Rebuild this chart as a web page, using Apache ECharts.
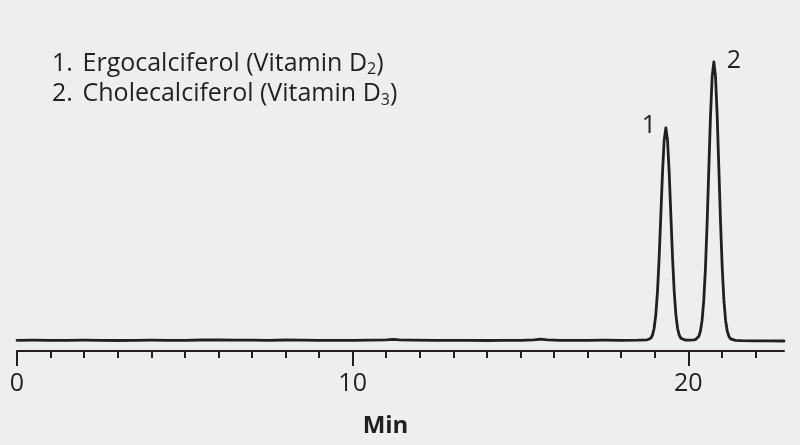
<!DOCTYPE html>
<html><head><meta charset="utf-8">
<script src="https://cdn.jsdelivr.net/npm/echarts@6/dist/echarts.min.js"></script>
<style>html,body{margin:0;padding:0;background:#eeeeee}#c{width:800px;height:445px}</style>
</head><body><div id="c"></div>
<script>
// Retention time (min)
const times = [
  0, 0.5, 1.0, 1.5, 2.0, 2.5, 3.0, 3.5, 4.0, 4.5, 5.0, 5.5, 6.0, 6.5, 7.0, 7.5, 8.0, 8.5, 9.0, 9.5,
  10.0, 10.5, 11.0, 11.2, 11.4, 11.8, 12.5, 13.0, 13.5, 14.0, 14.5, 15.0, 15.4, 15.6, 15.8, 16.2, 16.5, 17.0, 17.5, 18.0, 18.5,
  18.78, 18.83, 18.88, 18.93, 18.98, 19.03, 19.08, 19.13, 19.18, 19.23, 19.28, 19.33, 19.38, 19.43, 19.48, 19.53, 19.58, 19.63, 19.68, 19.73, 19.78, 19.83, 19.88,
  19.95, 20.05, 20.15,
  20.21, 20.26, 20.31, 20.36, 20.41, 20.46, 20.51, 20.56, 20.61, 20.66, 20.71, 20.76, 20.81, 20.86, 20.91, 20.96, 21.01, 21.06, 21.11, 21.16, 21.21, 21.26, 21.31,
  21.4, 21.6, 22.0, 22.4, 22.85
];
// Detector signal (arbitrary units)
const signal = [
  -0.3, -0.2, -0.3, -0.4, -0.2, -0.3, -0.5, -0.3, -0.2, -0.4, -0.3, 0.0, 0.2, -0.1, -0.2, -0.3, 0.0, -0.2, -0.4, -0.3,
  -0.3, -0.1, 0.2, 0.6, 0.1, -0.2, -0.3, -0.4, -0.3, -0.5, -0.4, -0.3, 0.2, 0.8, 0.1, -0.3, -0.4, -0.3, -0.2, -0.3, -0.2,
  0.15, 0.6, 1.7, 4.7, 11.5, 24.9, 47.9, 81.8, 124.2, 167.1, 199.7, 212, 199.7, 167.1, 124.2, 81.8, 47.9, 24.9, 11.5, 4.7, 1.7, 0.6, 0.15,
  0.0, -0.1, 0.1,
  0.4, 1.2, 3.5, 8.7, 19.6, 39.6, 71.9, 117.0, 170.7, 223.8, 263.3, 278, 263.3, 223.8, 170.7, 117.0, 71.9, 39.6, 19.6, 8.7, 3.5, 1.2, 0.4,
  -0.3, -0.6, -0.8, -0.9, -1.0
];
const peakTimes = [19.33, 20.76];
const peakHeights = [212, 278];
const peakLabels = ['1', '2'];
const xTickValues = [0, 10, 20];
const compoundNames = ['Ergocalciferol (Vitamin D', 'Cholecalciferol (Vitamin D'];
const compoundSubs = ['2', '3'];
const xAxisTitle = 'Min';

const FONT = '"Open Sans", "Noto Sans", sans-serif';
const INK = '#231f20';

const chart = echarts.init(document.getElementById('c'), null, {renderer: 'canvas'});
const data = times.map((t, i) => [t, signal[i]]);

const legendGraphics = compoundNames.map((name, i) => ({
  type: 'text', left: 52, top: 51 + i * 30.5,
  style: {
    text: '{n|' + (i + 1) + '.}  {t|' + name + '}{s|' + compoundSubs[i] + '}{t|)}',
    rich: {
      n: {fontSize: 25, fontFamily: FONT, fill: INK, lineHeight: 28, padding: [0, 3, 0, 0]},
      t: {fontSize: 25, fontFamily: FONT, fill: INK, lineHeight: 28},
      s: {fontSize: 16, fontFamily: FONT, fill: INK, lineHeight: 16, verticalAlign: 'bottom'}
    }
  }
}));

chart.setOption({
  backgroundColor: '#eeeeee',
  animation: false,
  grid: {left: 17, right: 16, top: 40, bottom: 94, outerBoundsMode: 'none'},
  xAxis: {
    type: 'value', min: 0, max: 22.85, interval: 10,
    name: xAxisTitle, nameLocation: 'middle', nameGap: 63,
    nameTextStyle: {fontSize: 24, fontWeight: 'bold', fontFamily: FONT, color: INK, padding: [0, 30, 0, 0]},
    axisLine: {show: true, onZero: false, lineStyle: {color: INK, width: 2}},
    axisTick: {show: true, length: 15, customValues: xTickValues, lineStyle: {color: INK, width: 2}},
    minorTick: {show: true, splitNumber: 10, length: 7, lineStyle: {color: INK, width: 2}},
    axisLabel: {customValues: xTickValues, fontSize: 25, fontFamily: FONT, color: INK, margin: 20},
    splitLine: {show: false}, minorSplitLine: {show: false}
  },
  yAxis: {type: 'value', min: -11, max: 300, show: false, splitLine: {show: false}},
  series: [{
    type: 'line', data: data, showSymbol: false, symbol: 'none',
    lineStyle: {color: INK, width: 2.8, join: 'round', cap: 'round'}, silent: true,
    markPoint: {
      symbol: 'circle', symbolSize: 1, itemStyle: {color: 'rgba(0,0,0,0)'},
      label: {show: true, position: 'inside', fontSize: 25, fontFamily: FONT, color: INK},
      data: peakTimes.map((t, i) => ({
        coord: [t, peakHeights[i]], value: peakLabels[i],
        label: {formatter: peakLabels[i], offset: i === 0 ? [-17, -2] : [20, -1]}
      }))
    }
  }],
  graphic: legendGraphics
});
</script></body></html>
